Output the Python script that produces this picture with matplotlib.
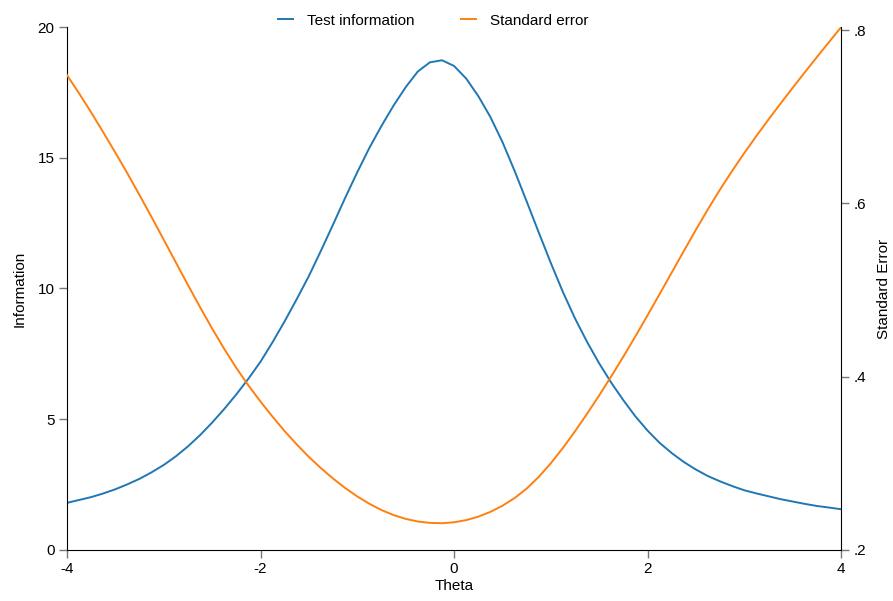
import matplotlib
matplotlib.use("Agg")
import matplotlib.pyplot as plt

plt.rcParams['font.family'] = ['Liberation Sans', 'DejaVu Sans']

# values, every 0.125 on the theta axis
theta = [-4.0, -3.875, -3.75, -3.625, -3.5, -3.375, -3.25, -3.125,
         -3.0, -2.875, -2.75, -2.625, -2.5, -2.375, -2.25, -2.125,
         -2.0, -1.875, -1.75, -1.625, -1.5, -1.375, -1.25, -1.125,
         -1.0, -0.875, -0.75, -0.625, -0.5, -0.375, -0.25, -0.125,
         0.0, 0.125, 0.25, 0.375, 0.5, 0.625, 0.75, 0.875,
         1.0, 1.125, 1.25, 1.375, 1.5, 1.625, 1.75, 1.875,
         2.0, 2.125, 2.25, 2.375, 2.5, 2.625, 2.75, 2.875,
         3.0, 3.125, 3.25, 3.375, 3.5, 3.625, 3.75, 3.875, 4.0]

info = [1.80, 1.91, 2.02, 2.16, 2.32, 2.51, 2.72, 2.97,
        3.25, 3.58, 3.96, 4.39, 4.87, 5.39, 5.95, 6.55,
        7.20, 7.95, 8.75, 9.60, 10.48, 11.45, 12.45, 13.47,
        14.45, 15.38, 16.22, 17.00, 17.70, 18.30, 18.65, 18.73,
        18.51, 18.03, 17.36, 16.56, 15.60, 14.50, 13.33, 12.14,
        10.97, 9.86, 8.85, 7.95, 7.13, 6.39, 5.72, 5.10,
        4.56, 4.09, 3.70, 3.36, 3.07, 2.82, 2.62, 2.44,
        2.28, 2.16, 2.05, 1.94, 1.85, 1.76, 1.68, 1.62, 1.555]

se = [0.748, 0.727, 0.705, 0.682, 0.6585, 0.6345, 0.6095, 0.584,
      0.558, 0.5318, 0.5058, 0.4802, 0.4555, 0.4320, 0.4100, 0.3898,
      0.3712, 0.3536, 0.3370, 0.3216, 0.3073, 0.2943, 0.2823, 0.2714,
      0.2617, 0.2532, 0.2460, 0.2402, 0.2358, 0.2328, 0.2312, 0.2308,
      0.2319, 0.2344, 0.2384, 0.2439, 0.2510, 0.2598, 0.2708, 0.2843,
      0.3001, 0.3178, 0.3370, 0.3573, 0.3785, 0.4005, 0.4233, 0.4468,
      0.4710, 0.4956, 0.5204, 0.5452, 0.5698, 0.5936, 0.6163, 0.6378,
      0.6583, 0.6780, 0.6970, 0.7155, 0.7336, 0.7514, 0.7690, 0.7863, 0.8035]

left_ticks = [0, 5, 10, 15, 20]
right_ticks = [0.2, 0.4, 0.6, 0.8]
right_labels = [".2", ".4", ".6", ".8"]
x_ticks = [-4, -2, 0, 2, 4]

fig = plt.figure(figsize=(8.93, 6.01), dpi=100)
ax1 = fig.add_axes([0.075, 0.085, 0.867, 0.870])
ax2 = ax1.twinx()

l1, = ax1.plot(theta, info, color="#1f77b4", lw=1.4, label="Test information")
l2, = ax2.plot(theta, se, color="#ff7f0e", lw=1.4, label="Standard error")

ax1.set_xlim(-4, 4)
ax1.set_ylim(0, 20)
ax2.set_ylim(0.2, max(se))
ax1.set_xticks(x_ticks)
ax1.set_xticklabels([str(t) for t in x_ticks])
ax1.set_yticks(left_ticks)
ax2.set_yticks(right_ticks)
ax2.set_yticklabels(right_labels)

for ax in (ax1, ax2):
    ax.spines['top'].set_visible(False)
    ax.tick_params(direction="out", length=6, width=1, color="#777777",
                   labelsize=11, pad=3)
ax1.spines['right'].set_visible(False)
ax2.spines['left'].set_visible(False)
ax2.spines['bottom'].set_visible(False)

ax1.set_xlabel("Theta", fontsize=11, labelpad=2)
ax1.set_ylabel("Information", fontsize=11, labelpad=8)
ax2.set_ylabel("Standard Error", fontsize=11, labelpad=8)

fig.legend(handles=[l1, l2], loc="upper center", bbox_to_anchor=(0.485, 1.0),
           ncol=2, frameon=False, fontsize=11, handlelength=1.0,
           columnspacing=3.0, handletextpad=0.9)

fig.savefig("out.png", dpi=100)
